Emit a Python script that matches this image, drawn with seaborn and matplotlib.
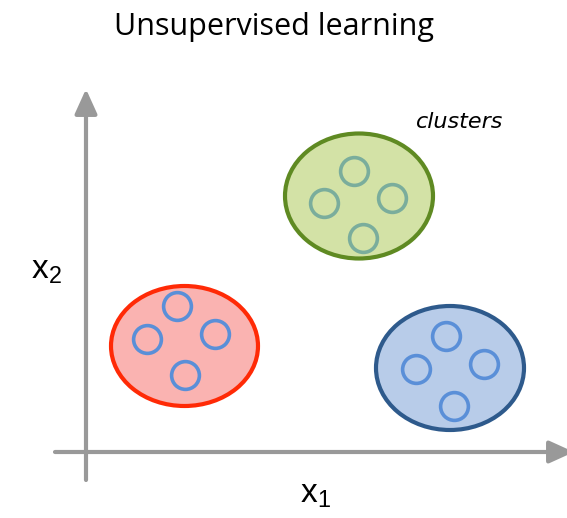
"""
plot.py - unsupervised learning cluster diagram, drawn with seaborn + matplotlib patches.
"""

import matplotlib
matplotlib.use("Agg")
import matplotlib.pyplot as plt
from matplotlib.patches import Ellipse
import pandas as pd
import seaborn as sns

sns.set_theme(style="white")
plt.rcParams["font.family"] = ["Open Sans", "DejaVu Sans"]
plt.rcParams["text.color"] = "black"
plt.rcParams["mathtext.fontset"] = "custom"
plt.rcParams["mathtext.rm"] = "Liberation Sans"

# cluster blobs (data units, origin where the axes cross)
CLUSTERS = ["red", "green", "blue"]
BLOB_X = [98.5, 273, 364]
BLOB_Y = [106, 256, 84]
BLOB_W = [147, 148, 148]
BLOB_H = [120, 125, 124]

# member points of each cluster
POINT_CLUSTER = ["red"] * 4 + ["green"] * 4 + ["blue"] * 4
POINT_X = [90.5, 61, 129, 99, 268, 238, 306, 277, 360, 330, 398, 368]
POINT_Y = [146, 113, 118, 77, 281, 249, 254, 214, 116, 83, 88, 46]

FILL = {"red": "#fab3b1", "green": "#d3e2a6", "blue": "#b8cce9"}
EDGE = {"red": "#ff2a06", "green": "#5f8a22", "blue": "#2e5a8c"}
RING = {"red": "#5a8fd8", "green": "#7aad9c", "blue": "#5a8fd8"}

GREY = "#999999"

points = pd.DataFrame({"cluster": POINT_CLUSTER, "x": POINT_X, "y": POINT_Y})

fig = plt.figure(figsize=(5.67, 5.18), dpi=100)
ax = fig.add_axes([0, 0, 1, 1])
ax.set_xlim(-86, 481)
ax.set_ylim(-66, 452)
ax.axis("off")

# axes arrows
arrow = dict(arrowstyle="-|>,head_length=0.75,head_width=0.34", color=GREY,
             lw=3.0, shrinkA=0, shrinkB=0, mutation_scale=20)
ax.annotate("", xy=(0, 363), xytext=(0, -28), arrowprops=arrow)
ax.annotate("", xy=(488, 0), xytext=(-31, 0), arrowprops=arrow,
            annotation_clip=False)

# blobs
for name, cx, cy, w, h in zip(CLUSTERS, BLOB_X, BLOB_Y, BLOB_W, BLOB_H):
    ax.add_patch(Ellipse((cx, cy), w, h, facecolor=FILL[name],
                         edgecolor=EDGE[name], lw=3.0, zorder=2))

# member points as rings
for name in CLUSTERS:
    sub = points[points["cluster"] == name]
    sns.scatterplot(data=sub, x="x", y="y", ax=ax, s=400, marker="o",
                    color=FILL[name], edgecolor=RING[name], linewidth=2.6,
                    zorder=3, legend=False)
ax.set_xlabel("")
ax.set_ylabel("")

fig.text(0.483, 0.948, "Unsupervised learning", ha="center", va="center",
         fontsize=22, color="black")
ax.text(-40, 182, r"$\mathregular{x_2}$", ha="center", va="center",
        fontsize=24, family="Liberation Sans", color="black")
ax.text(229, -43, r"$\mathregular{x_1}$", ha="center", va="center",
        fontsize=24, family="Liberation Sans", color="black")
ax.text(374, 330, "clusters", ha="center", va="center", fontsize=16,
        style="italic", family="DejaVu Sans", color="black")

fig.savefig("out.png", dpi=100)
